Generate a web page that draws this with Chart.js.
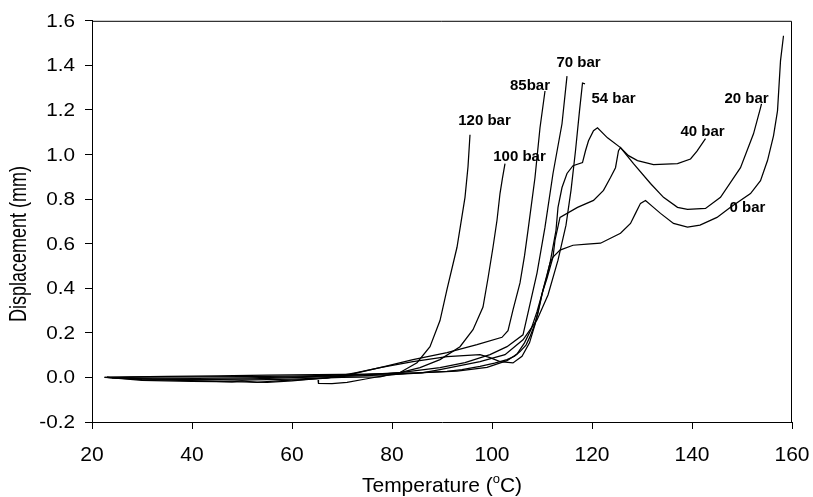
<!DOCTYPE html>
<html>
<head>
<meta charset="utf-8">
<script src="https://cdn.jsdelivr.net/npm/chart.js@4.4.1/dist/chart.umd.min.js"></script>
<style>
  html, body { margin: 0; padding: 0; background: #fff; }
  #wrap { width: 813px; height: 497px; }
</style>
</head>
<body>
<div id="wrap"><canvas id="grafico"></canvas></div>
<script>
// temperature (°C) and displacement (mm) for each pressure run
const temp0 = [65.2, 65.3, 68, 71, 75, 79, 83, 87, 91, 94, 97.6, 100.5, 103, 104.5, 105.6, 106.8, 107.6, 108.5, 109.2, 110.2, 111, 111.6, 112.2, 113.6, 116.2, 119, 121.7, 125.7, 127.7, 128.7, 129.7, 130.7, 132.3, 133.7, 136.3, 139.1, 141.6, 145, 147.7, 151.7, 153.7, 155.1, 156.3, 157.1, 157.7, 158.3];
const disp0 = [-0.012, -0.027, -0.028, -0.022, -0.006, 0.01, 0.018, 0.023, 0.027, 0.035, 0.05, 0.064, 0.08, 0.095, 0.116, 0.145, 0.183, 0.235, 0.29, 0.392, 0.455, 0.513, 0.54, 0.571, 0.593, 0.598, 0.602, 0.647, 0.691, 0.736, 0.781, 0.794, 0.763, 0.736, 0.691, 0.674, 0.683, 0.718, 0.763, 0.825, 0.883, 0.973, 1.084, 1.196, 1.42, 1.533];

const temp20 = [22.5, 28, 35, 45, 55, 65, 75, 85, 93, 99, 103, 105, 106.5, 107.8, 109, 110, 111, 112.2, 112.6, 113.6, 117.1, 120.3, 122.3, 123.7, 124.7, 125.3, 125.7, 128.3, 131.7, 134.3, 137.1, 139.1, 142.7, 145.7, 149.7, 152.3, 153.7, 153.9];
const disp20 = [0, 0.003, 0.005, 0.007, 0.01, 0.012, 0.015, 0.02, 0.028, 0.045, 0.075, 0.105, 0.155, 0.215, 0.295, 0.375, 0.445, 0.54, 0.616, 0.718, 0.763, 0.794, 0.839, 0.897, 0.941, 1.017, 1.031, 0.959, 0.87, 0.808, 0.763, 0.754, 0.758, 0.808, 0.941, 1.093, 1.209, 1.227];

const temp40 = [23, 30, 40, 50, 55, 60, 70, 77.6, 84.2, 91, 97.6, 99.6, 101.6, 104.2, 106, 107.5, 108.7, 110, 111.6, 112.8, 113.2, 114, 115, 116.2, 118.1, 118.7, 119.3, 120.3, 121.1, 123.1, 125.7, 127.3, 129.1, 132.3, 137.1, 139.7, 141, 142.7];
const disp40 = [0, -0.013, -0.018, -0.02, -0.022, -0.015, 0.005, 0.044, 0.071, 0.093, 0.102, 0.089, 0.071, 0.065, 0.095, 0.155, 0.245, 0.375, 0.513, 0.66, 0.763, 0.852, 0.915, 0.95, 0.964, 1.017, 1.062, 1.107, 1.12, 1.075, 1.031, 0.995, 0.973, 0.955, 0.959, 0.98, 1.015, 1.071];

const temp54 = [24, 32, 42, 52, 62, 72, 80, 86, 89.6, 97.6, 102.6, 106.2, 109, 111.2, 113.2, 114.8, 115.8, 116.7, 117.5, 118.1, 118.6];
const disp54 = [-0.002, -0.008, -0.01, -0.006, 0, 0.006, 0.012, 0.02, 0.035, 0.071, 0.102, 0.169, 0.258, 0.37, 0.526, 0.683, 0.839, 1.017, 1.196, 1.321, 1.317];

const temp70 = [23, 31, 41, 51, 61, 71, 81.6, 89.6, 94.6, 99.6, 103, 106.2, 107.2, 109, 110.6, 112.2, 114, 115];
const disp70 = [0, -0.003, -0.004, -0.002, 0.002, 0.008, 0.022, 0.044, 0.066, 0.102, 0.138, 0.191, 0.29, 0.468, 0.674, 0.915, 1.138, 1.352];

const temp85 = [23, 30, 40, 48, 50, 53, 57, 62, 67, 72.9, 77.6, 84.2, 91, 97, 102, 103.2, 104.2, 105.6, 106.5, 107.2, 108.6, 109.6, 110.6];
const disp85 = [0, -0.01, -0.014, -0.02, -0.016, -0.022, -0.015, -0.01, -0.003, 0.022, 0.044, 0.08, 0.111, 0.147, 0.18, 0.21, 0.303, 0.424, 0.545, 0.66, 0.897, 1.12, 1.285];

const temp100 = [23, 30, 40, 50, 60, 70, 78, 81.6, 85.6, 89.6, 93.6, 96.2, 98.2, 99.2, 100.2, 101, 101.6, 102.1, 102.6];
const disp100 = [0, 0.002, 0.003, 0.004, 0.006, 0.01, 0.015, 0.022, 0.044, 0.08, 0.138, 0.214, 0.316, 0.445, 0.584, 0.705, 0.825, 0.895, 0.959];

const temp120 = [22.5, 30, 40, 50, 60, 70, 77.6, 81.6, 85, 87.6, 89.6, 91, 93, 94.6, 95.2, 95.6];
const disp120 = [0, -0.006, -0.01, -0.012, -0.008, 0, 0.002, 0.022, 0.066, 0.138, 0.255, 0.395, 0.584, 0.808, 0.945, 1.089];

const runNames = ['0 bar', '20 bar', '40 bar', '54 bar', '70 bar', '85bar', '100 bar', '120 bar'];
const xTicks = [20, 40, 60, 80, 100, 120, 140, 160];
const yTicks = [-0.2, 0, 0.2, 0.4, 0.6, 0.8, 1.0, 1.2, 1.4, 1.6];

const runs = [
	[temp0, disp0], [temp20, disp20], [temp40, disp40], [temp54, disp54],
	[temp70, disp70], [temp85, disp85], [temp100, disp100], [temp120, disp120]
];

// where each run's name is written (data units)
const labelAt = [
	[151.1, 0.759], [150.9, 1.25], [142.1, 1.103], [124.3, 1.25],
	[117.3, 1.411], [107.6, 1.308], [105.5, 0.991], [98.5, 1.152]
];

const fonte = '"Liberation Sans", Arial, sans-serif';

const rotulos = {
	id: 'rotulos',
	afterDatasetsDraw(chart) {
		const c = chart.ctx, a = chart.chartArea;
		const sx = chart.scales.x, sy = chart.scales.y;
		c.save();
		// frame top and right
		c.strokeStyle = '#000';
		c.lineWidth = 1;
		c.beginPath();
		c.moveTo(a.left, a.top + 0.5);
		c.lineTo(a.right - 0.5, a.top + 0.5);
		c.lineTo(a.right - 0.5, a.bottom);
		c.stroke();

		c.fillStyle = '#000';
		c.font = 'bold 15px ' + fonte;
		c.textAlign = 'center';
		c.textBaseline = 'middle';
		runNames.forEach((n, i) => {
			c.fillText(n, sx.getPixelForValue(labelAt[i][0]), sy.getPixelForValue(labelAt[i][1]));
		});

		// y tick labels, slightly wide like the original
		c.font = '18px ' + fonte;
		c.textAlign = 'right';
		yTicks.forEach(v => {
			c.save();
			c.translate(a.left - 17, sy.getPixelForValue(v) + 1);
			c.scale(1.15, 1);
			c.fillText(v.toFixed(1), 0, 0);
			c.restore();
		});

		// y axis title, stretched the same way
		c.save();
		c.textAlign = 'center';
		c.translate(20, 244);
		c.rotate(-Math.PI / 2);
		c.scale(1, 1.3);
		c.fillText('Displacement (mm)', 0, 0);
		c.restore();

		// x axis title with superscript o
		const big = '21px ' + fonte, small = '13px ' + fonte;
		c.font = big;
		const p1 = 'Temperature (', p3 = 'C)';
		const w1 = c.measureText(p1).width, w3 = c.measureText(p3).width;
		c.font = small;
		const w2 = c.measureText('o').width;
		let x = (a.left + a.right) / 2 - (w1 + w2 + w3) / 2;
		const base = 492;
		c.textAlign = 'left';
		c.textBaseline = 'alphabetic';
		c.font = big; c.fillText(p1, x, base); x += w1;
		c.font = small; c.fillText('o', x, base - 9); x += w2;
		c.font = big; c.fillText(p3, x, base);
		c.restore();
	}
};

let ctx = document.getElementById('grafico').getContext('2d');

let grafico = new Chart(ctx, {
	type: 'line',
	data: {
		datasets: runs.map((r, i) => ({
			label: runNames[i],
			data: r[0].map((t, k) => ({ x: t, y: r[1][k] })),
			borderColor: '#000',
			borderWidth: 1.25,
			pointRadius: 0,
			tension: 0,
			fill: false
		}))
	},
	options: {
		responsive: true,
		maintainAspectRatio: false,
		animation: false,
		layout: { padding: { left: 0, right: 21, top: 20, bottom: 0 } },
		plugins: {
			legend: { display: false },
			tooltip: { enabled: false }
		},
		scales: {
			x: {
				type: 'linear',
				min: 20,
				max: 160,
				afterBuildTicks: s => { s.ticks = xTicks.map(v => ({ value: v })); },
				afterFit: s => { s.height = 75; s.paddingLeft = 0; s.paddingRight = 0; },
				grid: { drawOnChartArea: false, drawTicks: true, tickLength: 7, tickColor: '#000' },
				border: { display: true, color: '#000', width: 1 },
				ticks: {
					color: '#000',
					font: { family: fonte, size: 21 },
					padding: 14,
					maxRotation: 0,
					autoSkip: false
				}
			},
			y: {
				min: -0.2,
				max: 1.6,
				afterBuildTicks: s => { s.ticks = yTicks.map(v => ({ value: v })); },
				afterFit: s => { s.width = 92; },
				grid: { drawOnChartArea: false, drawTicks: true, tickLength: 7, tickColor: '#000' },
				border: { display: true, color: '#000', width: 1 },
				ticks: {
					color: 'rgba(0,0,0,0)',
					font: { family: fonte, size: 18 },
					padding: 10,
					callback: v => v.toFixed(1)
				}
			}
		}
	},
	plugins: [rotulos]
});
</script>
</body>
</html>
